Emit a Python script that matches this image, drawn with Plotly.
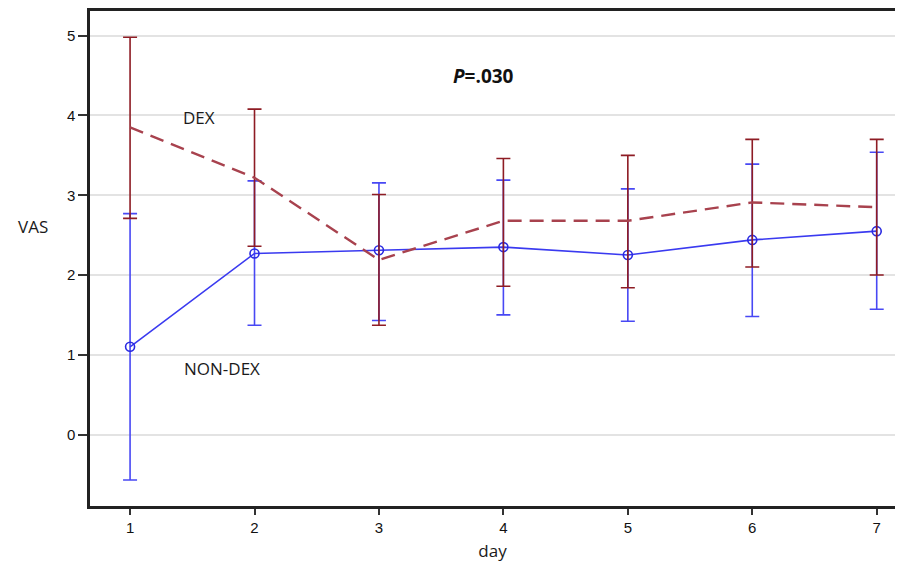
import plotly.graph_objects as go

days = [1, 2, 3, 4, 5, 6, 7]
dex_mean = [3.85, 3.22, 2.19, 2.68, 2.68, 2.91, 2.85]
dex_upper = [4.98, 4.08, 3.01, 3.46, 3.50, 3.70, 3.70]
dex_lower = [2.71, 2.36, 1.37, 1.86, 1.84, 2.10, 2.00]
non_mean = [1.10, 2.27, 2.31, 2.35, 2.25, 2.44, 2.55]
non_upper = [2.77, 3.18, 3.155, 3.19, 3.08, 3.39, 3.54]
non_lower = [-0.57, 1.37, 1.43, 1.50, 1.42, 1.48, 1.57]
y_ticks = [0, 1, 2, 3, 4, 5]

def up(u, m):
    return [a - b for a, b in zip(u, m)]

def dn(l, m):
    return [b - a for a, b in zip(l, m)]

fig = go.Figure()
fig.add_trace(go.Scatter(
    x=days, y=non_mean, mode="lines+markers", name="NON-DEX",
    line=dict(color="#3A3AF0", width=1.6),
    marker=dict(symbol="circle-open", size=9, color="#2A2AE0", line=dict(width=1.6)),
    error_y=dict(type="data", symmetric=False, array=up(non_upper, non_mean),
                 arrayminus=dn(non_lower, non_mean), color="#4848F4",
                 thickness=1.6, width=7),
))
fig.add_trace(go.Scatter(
    x=days, y=dex_mean, mode="lines", name="DEX",
    line=dict(color="#A8424E", width=2.4, dash="14px,8px"),
    error_y=dict(type="data", symmetric=False, array=up(dex_upper, dex_mean),
                 arrayminus=dn(dex_lower, dex_mean), color="#8E1C24",
                 thickness=1.6, width=7),
))

lab_font = dict(family="Open Sans, Lato, sans-serif", size=17, color="#1a1a1a")
fig.add_annotation(x=1.55, y=3.98, text="DEX", showarrow=False, font=lab_font)
fig.add_annotation(x=1.74, y=0.83, text="NON-DEX", showarrow=False, font=lab_font)
fig.add_annotation(x=3.84, y=4.50, text="<b><i>P</i>=.030</b>", showarrow=False,
                   font=dict(family="Open Sans, Lato, sans-serif", size=19, color="#111"))
fig.add_annotation(xref="paper", yref="paper", x=-0.071, y=0.565, xanchor="center",
                   yanchor="middle", text="VAS", showarrow=False, font=lab_font)

tick_font = dict(family="Liberation Sans, Arial", size=15, color="#111")

fig.update_layout(
    width=887, height=554,
    margin=dict(l=82, r=0, t=1, b=54),
    paper_bgcolor="white", plot_bgcolor="white",
    showlegend=False,
    xaxis=dict(range=[0.678, 7.147], tickvals=days, ticks="outside", ticklen=6,
               tickcolor="#333", tickwidth=1.5, showline=True, linecolor="#222", linewidth=2.5,
               mirror=True, showgrid=False, zeroline=False, tickfont=tick_font,
               title=dict(text="day", standoff=14, font=lab_font)),
    yaxis=dict(range=[-0.896, 5.31], tickvals=y_ticks, ticks="outside", ticklen=9,
               tickcolor="#333", tickwidth=1.5, showline=True, linecolor="#222", linewidth=2.5,
               showgrid=True, gridcolor="#E3E3E3", gridwidth=1.5, zeroline=False,
               tickfont=tick_font),
)

fig.write_html("out.html")
